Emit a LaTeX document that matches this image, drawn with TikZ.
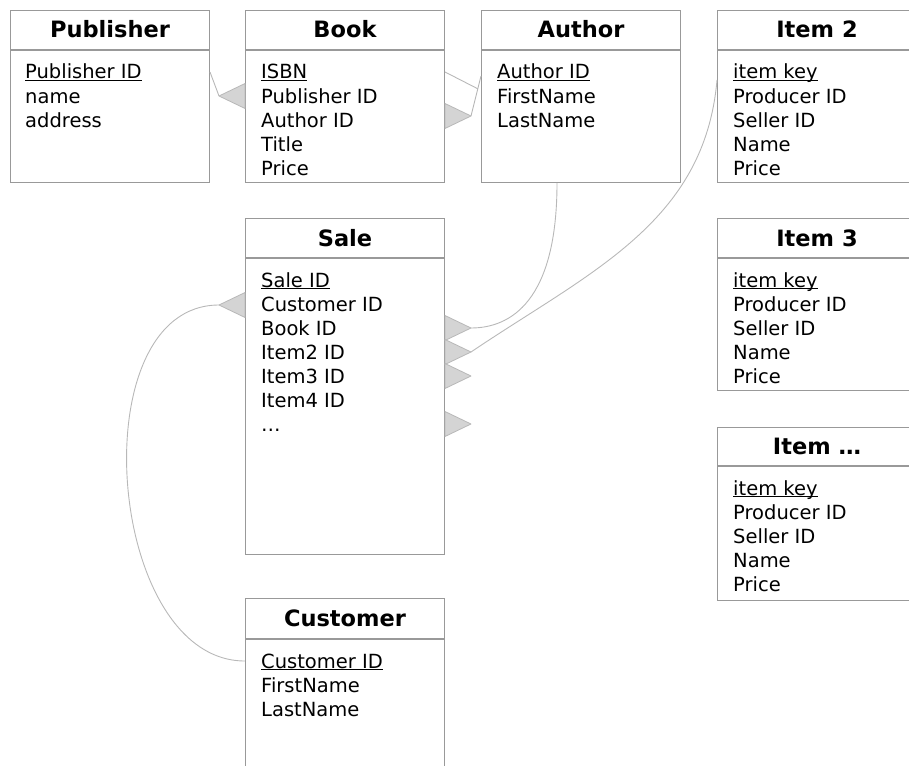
\documentclass[tikz,border=0pt]{standalone}
\usepackage{fontspec}
\setmainfont{DejaVu Sans}
\usetikzlibrary{positioning, calc}

\definecolor{boxgray}{gray}{0.6}
\definecolor{linkgray}{gray}{0.72}
\definecolor{footgray}{gray}{0.83}
\newcommand{\keyfield}[1]{\underline{\smash{#1}}}

\begin{document}
\begin{tikzpicture}[x=1pt, y=1pt,
	tblhead/.style={draw=boxgray, line width=1pt, minimum width=199pt, minimum height=39pt, inner sep=0pt, anchor=north west, font=\fontsize{22.5}{26}\selectfont\bfseries, text height=16pt, text depth=0pt},
	tblbody/.style={draw=boxgray, line width=1pt, minimum width=199pt, inner sep=0pt},
	row/.style={anchor=west, inner sep=0pt, font=\fontsize{19.5}{23}\selectfont, text height=14pt, text depth=0pt},
	link/.style={draw=linkgray, line width=0.9pt},
	foot/.style={fill=footgray, draw=linkgray, line width=0.8pt, line join=round}]
			
			\clip (0,0) rectangle (909,-765);
			
			% Publisher
			\node[tblhead] (pub) at (10,-10) {Publisher};
			\node[tblbody, minimum height=132pt, below=0pt of pub] (pubb) {};
			\foreach \t [count=\i] in {\keyfield{Publisher ID}, name, address}
				\node[row] (pub-\i) at ($(pubb.north west)+(15,-22-24*\i+24)$) {\t};
			
			% Book
			\node[tblhead] (book) at (245,-10) {Book};
			\node[tblbody, minimum height=132pt, below=0pt of book] (bookb) {};
			\foreach \t [count=\i] in {\keyfield{ISBN}, Publisher ID, Author ID, Title, Price}
				\node[row] (book-\i) at ($(bookb.north west)+(16,-22-24*\i+24)$) {\t};
			
			% Author
			\node[tblhead] (auth) at (481,-10) {Author};
			\node[tblbody, minimum height=132pt, below=0pt of auth] (authb) {};
			\foreach \t [count=\i] in {\keyfield{Author ID}, FirstName, LastName}
				\node[row] (auth-\i) at ($(authb.north west)+(16,-22-24*\i+24)$) {\t};
			
			% Items
			\node[tblhead] (item2) at (717,-10) {Item 2};
			\node[tblbody, minimum height=132pt, below=0pt of item2] (item2b) {};
			\foreach \t [count=\i] in {\keyfield{item key}, Producer ID, Seller ID, Name, Price}
				\node[row] (item2-\i) at ($(item2b.north west)+(16,-22-24*\i+24)$) {\t};
			
			\node[tblhead] (item3) at (717,-218) {Item 3};
			\node[tblbody, minimum height=132pt, below=0pt of item3] (item3b) {};
			\foreach \t [count=\i] in {\keyfield{item key}, Producer ID, Seller ID, Name, Price}
				\node[row] (item3-\i) at ($(item3b.north west)+(16,-22-24*\i+24)$) {\t};
			
			\node[tblhead, minimum height=38pt] (itemn) at (717,-427) {Item …};
			\node[tblbody, minimum height=134pt, below=0pt of itemn] (itemnb) {};
			\foreach \t [count=\i] in {\keyfield{item key}, Producer ID, Seller ID, Name, Price}
				\node[row] (itemn-\i) at ($(itemnb.north west)+(16,-22-24*\i+24)$) {\t};
			
			% Sale
			\node[tblhead] (sale) at (245,-218) {Sale};
			\node[tblbody, minimum height=296pt, below=0pt of sale] (saleb) {};
			\foreach \t [count=\i] in {\keyfield{Sale ID}, Customer ID, Book ID, Item2 ID, Item3 ID, Item4 ID, …}
				\node[row] (sale-\i) at ($(saleb.north west)+(16,-22-24*\i+24)$) {\t};
			
			% Customer
			\node[tblhead, minimum height=40pt] (cust) at (245,-598) {Customer};
			\node[tblbody, minimum height=132pt, below=0pt of cust] (custb) {};
			\foreach \t [count=\i] in {\keyfield{Customer ID}, FirstName, LastName}
				\node[row] (cust-\i) at ($(custb.north west)+(16,-22-24*\i+24)$) {\t};
			
			% Crow's feet
			\coordinate (tip-pub) at ($(book-2 -| bookb.west)+(-26,0)$);
			\coordinate (tip-auth) at ($(book-3 -| bookb.east)+(26,4)$);
			\coordinate (tip-cust) at ($(sale-2 -| saleb.west)+(-26,-1)$);
			\filldraw[foot] (tip-pub) -- ++(26,12.5) -- ++(0,-25) -- cycle;
			\filldraw[foot] (tip-auth) -- ++(-26,12.5) -- ++(0,-25) -- cycle;
			\filldraw[foot] (tip-cust) -- ++(26,12.5) -- ++(0,-25) -- cycle;
			\foreach \r in {3,4,5,7} {
				\coordinate (tip-sale-\r) at ($(sale-\r -| saleb.east)+(26,0)$);
				\filldraw[foot] (tip-sale-\r) -- ++(-26,12.5) -- ++(0,-25) -- cycle;
			}
			
			% Links
			\draw[link] (pub-1 -| pubb.east) -- (tip-pub);
			\coordinate (auth-in) at ($(auth-1 -| authb.west)+(0,-4)$);
			\draw[link] (auth-in) -- (tip-auth);
			\draw[link] (book-1 -| bookb.east) -- ($(auth-in)!0.32!(tip-auth)$);
			\draw[link] ([xshift=-24pt]authb.south) to[out=-90, in=0, out looseness=1.8, in looseness=0.6] (tip-sale-3);
			\draw[link] ($(item2-1 -| item2b.west)+(0,-8)$) to[out=-95, in=34] (tip-sale-4);
			\draw[link] (cust-1 -| custb.west) to[out=180, in=180] (tip-cust);
			
		\end{tikzpicture}
\end{document}
